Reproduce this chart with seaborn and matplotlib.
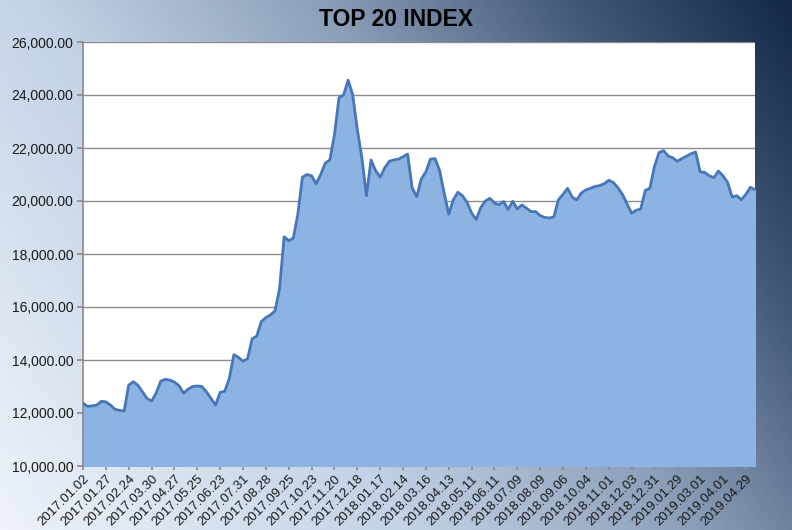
import numpy as np
import matplotlib
matplotlib.use("Agg")
import matplotlib.pyplot as plt
from matplotlib.colors import LinearSegmentedColormap
from matplotlib.ticker import FuncFormatter
import seaborn as sns

# index values (about one point per week)
index_values = [
    12370, 12250, 12270, 12300, 12440, 12420, 12300, 12140, 12100, 12080,
    13050, 13180, 13050, 12800, 12550, 12450, 12750, 13200, 13270, 13240,
    13170, 13030, 12750, 12900, 13000, 13020, 13000, 12800, 12550, 12300,
    12780, 12820, 13300, 14200, 14100, 13950, 14050, 14800, 14900, 15450,
    15600, 15700, 15850, 16700, 18650, 18500, 18600, 19500, 20900, 21000,
    20950, 20650, 21000, 21430, 21550, 22500, 23900, 24000, 24560, 24000,
    22700, 21630, 20200, 21550, 21150, 20900, 21250, 21500, 21550, 21580,
    21670, 21770, 20500, 20160, 20830, 21100, 21580, 21600, 21150, 20300,
    19500, 20040, 20330, 20200, 19950, 19550, 19300, 19750, 20000, 20100,
    19920, 19860, 19980, 19680, 19990, 19700, 19850, 19730, 19600, 19600,
    19450, 19380, 19360, 19400, 20050, 20250, 20480, 20150, 20040, 20300,
    20420, 20480, 20550, 20580, 20650, 20780, 20700, 20500, 20250, 19900,
    19540, 19650, 19700, 20400, 20480, 21300, 21830, 21900, 21700, 21630,
    21500, 21600, 21690, 21780, 21850, 21100, 21080, 20950, 20880, 21130,
    20950, 20700, 20150, 20200, 20050, 20250, 20520, 20420,
]

date_labels = [
    "2017.01.02", "2017.01.27", "2017.02.24", "2017.03.30", "2017.04.27",
    "2017.05.25", "2017.06.23", "2017.07.31", "2017.08.28", "2017.09.25",
    "2017.10.23", "2017.11.20", "2017.12.18", "2018.01.17", "2018.02.14",
    "2018.03.16", "2018.04.13", "2018.05.11", "2018.06.11", "2018.07.09",
    "2018.08.09", "2018.09.06", "2018.10.04", "2018.11.01", "2018.12.03",
    "2018.12.31", "2019.01.29", "2019.03.01", "2019.04.01", "2019.04.29",
]

sns.set_theme(style="white")
plt.rcParams["font.family"] = ["Liberation Sans", "DejaVu Sans"]

fig = plt.figure(figsize=(7.92, 5.30), dpi=100)

# gradient background
bg = fig.add_axes([0, 0, 1, 1])
gx, gy = np.meshgrid(np.linspace(0, 1, 400), np.linspace(1, 0, 300))
t = 0.68 * gx + 0.32 * gy
cmap = LinearSegmentedColormap.from_list(
    "bg", [(0.0, "#EEF3FA"), (0.35, "#C3D2E6"), (0.6, "#8B9EB8"),
           (0.8, "#465C7B"), (1.0, "#132847")])
bg.imshow(t, cmap=cmap, aspect="auto", extent=[0, 1, 0, 1], vmin=0, vmax=1)
bg.axis("off")

ax = fig.add_axes([83 / 792, 64 / 530, 672 / 792, 424 / 530])
ax.set_facecolor("white")

x = np.arange(len(index_values))
ax.fill_between(x, index_values, 10000, color="#8DB3E2", zorder=2)
sns.lineplot(x=x, y=index_values, ax=ax, color="#4677B8", linewidth=2.0, zorder=3)

ax.set_xlim(0, len(index_values) - 1)
ax.set_ylim(10000, 26000)
ax.set_yticks(range(10000, 26001, 2000))
ax.yaxis.set_major_formatter(FuncFormatter(lambda v, p: f"{v:,.2f}"))
ax.set_xticks(range(0, 5 * len(date_labels), 5))
ax.set_xticklabels(date_labels, rotation=45, ha="right", rotation_mode="anchor")

ax.grid(axis="y", color="#8C8C8C", linewidth=1.0, zorder=1)
ax.grid(axis="x", visible=False)
ax.set_axisbelow(True)
for side in ["top", "right", "bottom"]:
    ax.spines[side].set_visible(False)
ax.spines["left"].set_color("#8C8C8C")
ax.tick_params(axis="y", left=True, length=4, color="#8C8C8C",
               labelsize=10, labelcolor="#1A1A1A", pad=3)
ax.tick_params(axis="x", bottom=True, length=3, color="#8C8C8C",
               labelsize=9.5, labelcolor="#1A1A1A", pad=2)
ax.set_xlabel("")
ax.set_ylabel("")

fig.text(0.5, 0.963, "TOP 20 INDEX", ha="center", va="center",
         fontsize=16.5, fontweight="bold", color="black")

fig.savefig("out.png", dpi=100)
